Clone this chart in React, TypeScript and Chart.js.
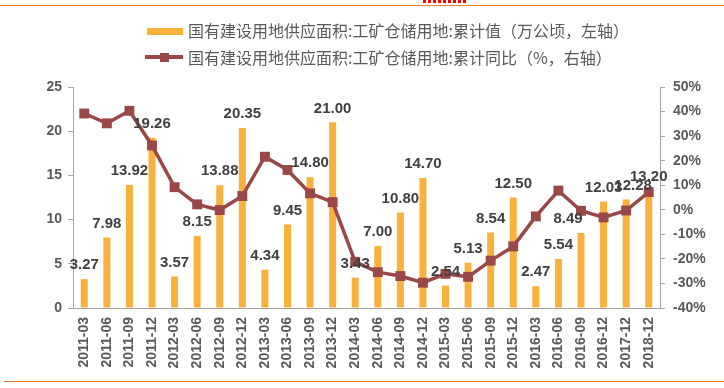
import React, { useEffect, useRef } from 'react';
import { Chart, registerables } from 'chart.js';

Chart.register(...registerables);

const categories = [
  '2011-03', '2011-06', '2011-09', '2011-12',
  '2012-03', '2012-06', '2012-09', '2012-12',
  '2013-03', '2013-06', '2013-09', '2013-12',
  '2014-03', '2014-06', '2014-09', '2014-12',
  '2015-03', '2015-06', '2015-09', '2015-12',
  '2016-03', '2016-06', '2016-09', '2016-12',
  '2017-12', '2018-12',
];

const barValues = [
  3.27, 7.98, 13.92, 19.26,
  3.57, 8.15, 13.88, 20.35,
  4.34, 9.45, 14.8, 21.0,
  3.43, 7.0, 10.8, 14.7,
  2.54, 5.13, 8.54, 12.5,
  2.47, 5.54, 8.49, 12.03,
  12.28, 13.2,
];

const yoyValues = [
  39.2, 35.2, 40.3, 26.2,
  9.2, 2.2, -0.1, 5.6,
  21.6, 16.2, 6.7, 3.1,
  -21.2, -25.4, -27.0, -29.7,
  -26.1, -27.3, -20.7, -14.9,
  -2.7, 7.8, -0.4, -3.1,
  -0.3, 7.2,
];

const leftTicks = { min: 0, max: 25, step: 5 };
const rightTicks = { min: -40, max: 50, step: 10 };

const barLabel = '国有建设用地供应面积:工矿仓储用地:累计值（万公顷，左轴）';
const lineLabel = '国有建设用地供应面积:工矿仓储用地:累计同比（%，右轴）';

const BAR = '#F9B13B';
const LINE = '#9A4748';
const AXIS = '#A6A6A6';
const TICK = '#595959';
const FONT = "'Liberation Sans', Arial, sans-serif";

const labelShiftX: Record<number, number> = { 22: -13, 24: 7 };

const valueLabels = {
  id: 'valueLabels',
  afterDatasetsDraw(chart: any) {
    const ctx = chart.ctx;
    const meta = chart.getDatasetMeta(0);
    ctx.save();
    ctx.font = `bold 15px ${FONT}`;
    ctx.fillStyle = '#404040';
    ctx.textAlign = 'center';
    ctx.textBaseline = 'middle';
    meta.data.forEach((bar: any, i: number) => {
      ctx.fillText(barValues[i].toFixed(2), bar.x + (labelShiftX[i] || 0), bar.y - 14);
    });
    ctx.restore();
  },
};

export default function App() {
  const ref = useRef<HTMLCanvasElement>(null);

  useEffect(() => {
    const tickFont = { family: FONT, size: 14, weight: 'bold' as const };
    const chart = new Chart(ref.current!, {
      type: 'bar',
      data: {
        labels: categories,
        datasets: [
          {
            type: 'bar',
            label: barLabel,
            data: barValues,
            backgroundColor: BAR,
            barPercentage: 0.31,
            categoryPercentage: 1,
            yAxisID: 'y',
            order: 2,
          },
          {
            type: 'line',
            label: lineLabel,
            data: yoyValues,
            borderColor: LINE,
            backgroundColor: LINE,
            borderWidth: 3.5,
            pointStyle: 'rect',
            pointRadius: 7,
            pointBackgroundColor: LINE,
            pointBorderColor: LINE,
            pointBorderWidth: 0,
            tension: 0,
            yAxisID: 'y1',
            order: 1,
          },
        ] as any,
      },
      options: {
        animation: false,
        responsive: false,
        maintainAspectRatio: false,
        layout: { padding: { top: 87, left: 0, right: 0, bottom: 0 } },
        plugins: { legend: { display: false }, tooltip: { enabled: false } },
        scales: {
          x: {
            grid: { display: true, drawOnChartArea: false, drawTicks: false, color: AXIS },
            border: { display: true, color: AXIS },
            ticks: {
              autoSkip: false,
              maxRotation: 90,
              minRotation: 90,
              padding: 9,
              color: TICK,
              font: tickFont,
            },
            afterFit: (s: any) => {
              s.height = 80;
            },
          },
          y: {
            position: 'left',
            min: leftTicks.min,
            max: leftTicks.max,
            grid: { drawOnChartArea: false, drawTicks: true, tickLength: 5, color: AXIS },
            border: { display: true, color: AXIS },
            ticks: { stepSize: leftTicks.step, padding: 6, color: TICK, font: tickFont },
            afterFit: (s: any) => {
              s.width = 73;
            },
          },
          y1: {
            position: 'right',
            min: rightTicks.min,
            max: rightTicks.max,
            grid: { drawOnChartArea: false, drawTicks: true, tickLength: 5, color: AXIS },
            border: { display: true, color: AXIS },
            ticks: {
              stepSize: rightTicks.step,
              padding: 8,
              color: TICK,
              font: tickFont,
              callback: (v: any) => `${v}%`,
            },
            afterFit: (s: any) => {
              s.width = 64;
            },
          },
        },
      } as any,
      plugins: [valueLabels],
    });
    return () => chart.destroy();
  }, []);

  const legendText: React.CSSProperties = {
    position: 'absolute',
    left: 188,
    fontFamily: "'Noto Sans CJK SC', sans-serif",
    fontSize: 16,
    color: TICK,
    whiteSpace: 'nowrap',
    lineHeight: '20px',
  };

  return (
    <div style={{ position: 'fixed', left: 0, top: 0, width: 724, height: 388, background: '#fff', overflow: 'hidden' }}>
      <div style={{ position: 'absolute', left: 0, top: 5, width: 724, height: 1, background: '#ED7D31' }} />
      <div
        style={{
          position: 'absolute',
          left: 423,
          top: 0,
          width: 45,
          height: 3,
          background: 'repeating-linear-gradient(90deg, #FF0000 0 3px, transparent 3px 5px)',
        }}
      />
      <div style={{ position: 'absolute', left: 4, top: 381, width: 720, height: 1, background: '#ED7D31' }} />
      <canvas ref={ref} width={724} height={388} style={{ position: 'absolute', left: 0, top: 0 }} />
      <div style={{ position: 'absolute', left: 147, top: 28, width: 36, height: 7, background: BAR }} />
      <div style={{ ...legendText, top: 20 }}>{barLabel}</div>
      <div style={{ position: 'absolute', left: 145, top: 55, width: 38, height: 3.5, background: LINE }} />
      <div style={{ position: 'absolute', left: 160, top: 52.5, width: 9, height: 9, background: LINE }} />
      <div style={{ ...legendText, top: 47 }}>{lineLabel}</div>
    </div>
  );
}
